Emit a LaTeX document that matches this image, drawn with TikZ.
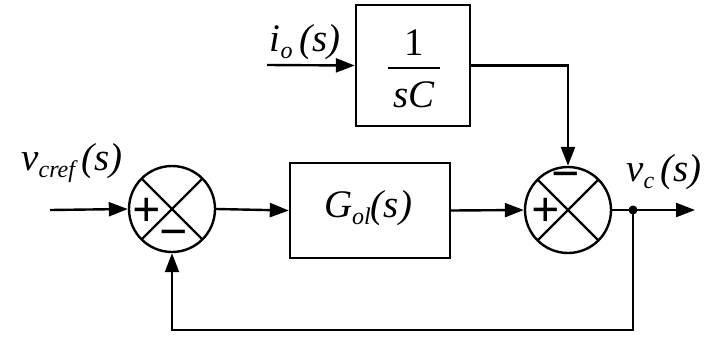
\documentclass[tikz,border=0pt]{standalone}
\usepackage{fontspec}
\setmainfont{Liberation Serif}
\usetikzlibrary{arrows.meta}
\newcommand{\mysub}[1]{\raisebox{-0.4ex}{\fontsize{24}{24}\selectfont #1}}
\begin{document}
\begin{tikzpicture}[x=1pt,y=-1pt, line width=2.4pt,
  blk/.style={draw, rectangle, inner sep=0pt},
  sumj/.style={draw, circle, minimum size=86pt, inner sep=0pt,
    path picture={\draw[line width=2.4pt] (path picture bounding box.north west) -- (path picture bounding box.south east)
      (path picture bounding box.north east) -- (path picture bounding box.south west);}},
  arr/.style={-{Triangle[length=19pt,width=14pt]}},
  lab/.style={font=\fontsize{39}{42}\selectfont\itshape, inner sep=0pt},
  sgn/.style={font=\fontsize{50}{52}\selectfont\bfseries, inner sep=0pt},
  dotn/.style={circle, fill, inner sep=0pt, minimum size=9pt}]
\useasboundingbox (0,0) rectangle (704,338);
% blocks
\node[sumj] (s1) at (172,209) {};
\node[sumj] (s2) at (568,210) {};
\node[blk, minimum width=160pt, minimum height=95pt] (gol) at (370,210.5) {};
\node[lab] (goltxt) at (368,208) {G\mysub{ol}(s)};
\node[blk, minimum width=114pt, minimum height=121pt] (sc) at (413,65.5) {};
\node[lab, font=\fontsize{39}{42}\selectfont] (one) at (414,43) {1};
\node[lab] (sctxt) at (414,95) {sC};
\draw[line width=2pt] (388,68) -- (440,68);
% signs
\node[sgn] (p1) at (147,212) {+};
\node[sgn] (m1) at (174,239) {\char"2212};
\node[sgn] (m2) at (566,181) {\char"2212};
\node[sgn] (p2) at (546,212) {+};
% labels
\node[lab] (lvref) at (72,163) {v\mysub{cref}\,(s)};
\node[lab] (lio) at (305,42) {i\mysub{o}\,(s)};
\node[lab] (lvc) at (664,172) {v\mysub{c}\,(s)};
% coordinates
\coordinate (vin) at (50,210);
\coordinate (iin) at (267,65);
\node[dotn] (dot) at (633,210) {};
\coordinate (vout) at (695,210);
\coordinate (fb) at (633,330);
% connectors
\draw[arr] (vin) -- (s1.west);
\draw[arr] (s1.east) -- (gol.west);
\draw[arr] (gol.east) -- (s2.west);
\draw (s2.east) -- (dot.center);
\draw[arr] (dot.center) -- (vout);
\draw[arr] (dot.center) -- (fb) -| (s1.south);
\draw[arr] (iin) -- (sc.west);
\draw[arr] (sc.east) -| (s2.north);
\end{tikzpicture}
\end{document}
